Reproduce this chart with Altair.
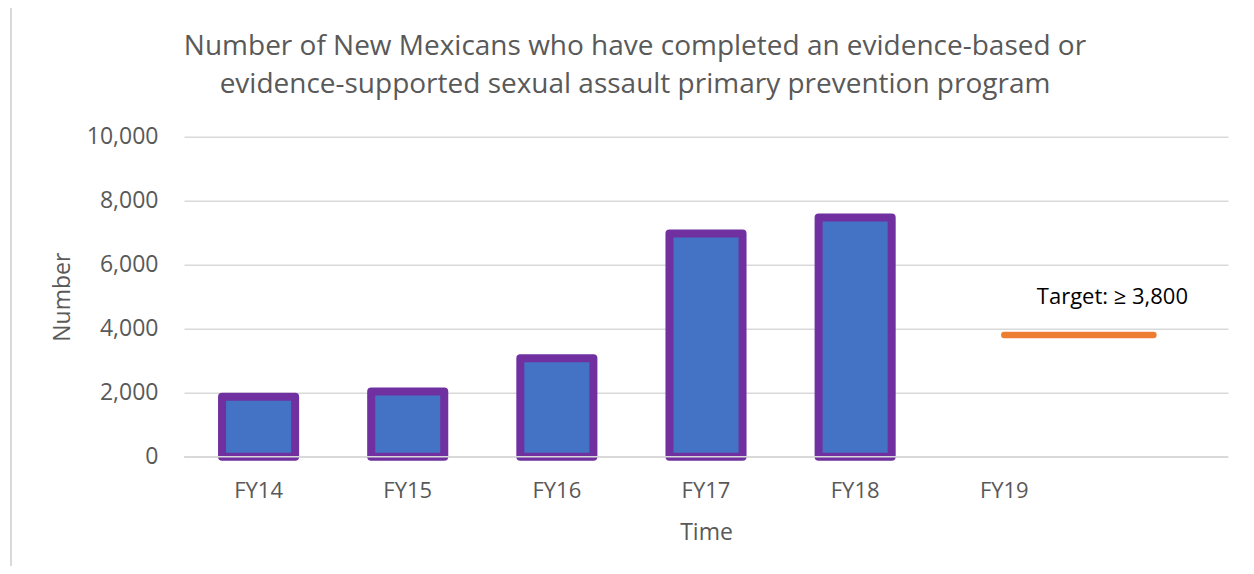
import altair as alt
import pandas as pd

categories = ["FY14", "FY15", "FY16", "FY17", "FY18", "FY19", " "]
bar_categories = ["FY14", "FY15", "FY16", "FY17", "FY18"]
bar_values = [1870, 2040, 3080, 6975, 7475]
target_value = 3800
target_start = "FY19"
target_end = " "
target_label = "Target: \u2265 3,800"
title_lines = [
    "Number of New Mexicans who have completed an evidence-based or",
    "evidence-supported sexual assault primary prevention program",
]
y_ticks = [0, 2000, 4000, 6000, 8000, 10000]

FONT = "Open Sans"
GRAY = "#595959"

bars_df = pd.DataFrame({"cat": bar_categories, "value": bar_values})
target_df = pd.DataFrame({"start": [target_start], "end": [target_end], "value": [target_value], "label": [target_label]})

x_scale = alt.Scale(domain=categories, paddingInner=0.51, paddingOuter=0.255)
y_scale = alt.Scale(domain=[0, 10000])

bars = alt.Chart(bars_df).mark_bar(
    color="#4472c4", stroke="#7030a0", strokeWidth=8, strokeJoin="round", cornerRadius=0
).encode(
    x=alt.X("cat:N", scale=x_scale, sort=categories,
            axis=alt.Axis(title="Time", labelAngle=0, ticks=False, domain=False,
                          labelFont=FONT, labelFontSize=22, labelColor=GRAY, labelPadding=24,
                          titleFont=FONT, titleFontSize=23, titleColor=GRAY, titleFontWeight="normal",
                          titlePadding=20)),
    y=alt.Y("value:Q", scale=y_scale,
            axis=alt.Axis(title="Number", values=y_ticks, format=",.0f", ticks=False, domain=False,
                          labelFont=FONT, labelFontSize=23, labelColor=GRAY, labelPadding=26,
                          titleFont=FONT, titleFontSize=23, titleColor=GRAY, titleFontWeight="normal",
                          titlePadding=12,
                          gridColor="#d9d9d9", gridWidth=1.5)),
)

zero_line = alt.Chart(pd.DataFrame({"v": [0]})).mark_rule(color="#d9d9d9", strokeWidth=1.5).encode(
    y=alt.Y("v:Q", scale=y_scale), x=alt.value(0), x2=alt.value(1044)
)

target_line = alt.Chart(target_df).mark_rule(color="#ed7d31", strokeWidth=6.5, strokeCap="round").encode(
    x=alt.X("start:N", scale=x_scale, sort=categories, bandPosition=0.5),
    x2=alt.X2("end:N", bandPosition=0.5),
    y=alt.Y("value:Q", scale=y_scale),
)

target_text = alt.Chart(target_df).mark_text(
    font=FONT, fontSize=22, color="#000000", dx=-41, dy=-31, baseline="alphabetic", align="center"
).encode(
    x=alt.X("end:N", scale=x_scale, sort=categories, bandPosition=0.5),
    y=alt.Y("value:Q", scale=y_scale),
    text="label:N",
)

border = alt.Chart(pd.DataFrame({"v": [0]})).mark_rule(color="#d9d9d9", strokeWidth=2).encode(
    x=alt.value(-173), y=alt.value(-129), y2=alt.value(440)
)

chart = alt.layer(bars, zero_line, target_line, target_text, border).properties(
    width=1044,
    height=320,
    title=alt.TitleParams(text=title_lines, font=FONT, fontSize=28, color=GRAY, fontWeight="normal",
                          anchor="middle", frame="group", dx=-71, dy=92, offset=0, lineHeight=38),
    autosize=alt.AutoSizeParams(type="none"),
    padding={"left": 176, "top": 128.7, "right": 18, "bottom": 109},
).configure_view(stroke=None)

chart.save("out.html", embed_options={"renderer": "svg", "actions": False})
